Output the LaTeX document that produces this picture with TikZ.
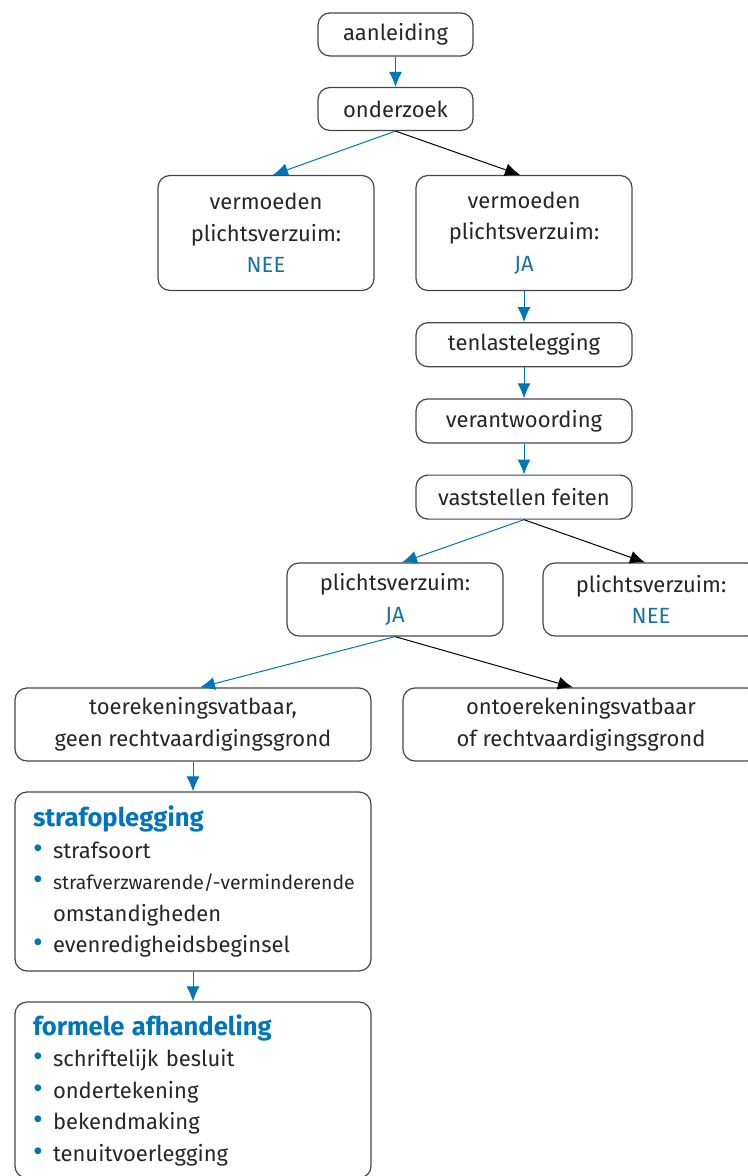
\documentclass[tikz,border=0pt]{standalone}
\usepackage{fontspec}
\setmainfont{Fira Sans}
\definecolor{blauw}{RGB}{0,118,186}
\definecolor{blauwt}{RGB}{25,115,160}
\definecolor{rand}{RGB}{70,70,70}
\usetikzlibrary{arrows.meta,positioning}
\tikzset{
  kader/.style={draw=rand,line width=0.6pt,rounded corners=6pt,align=center,
        text=black!85,font=\fontsize{11}{15.75}\selectfont,inner sep=2pt},
  lijst/.style={kader,align=left,text width=160pt,inner xsep=9pt,
        minimum width=178pt},
  pijlb/.style={-{Latex[length=7.5pt,width=6.5pt]},blauw,line width=0.5pt},
  pijlz/.style={-{Latex[length=7.5pt,width=6.5pt]},black,line width=0.5pt}
}
\newcommand{\uitslag}[1]{\textcolor{blauwt}{#1}}
\newcommand{\punt}{\makebox[10pt][l]{\textcolor{blauw}{\fontsize{15}{15.75}\selectfont\textbullet}}}
\newcommand{\kop}[1]{{\fontsize{12.8}{15.75}\selectfont\bfseries\textcolor{blauw}{#1}}}

\begin{document}
\begin{tikzpicture}[x=0.5pt,y=-0.5pt]
      \useasboundingbox (0,0) rectangle (748,1176);

      % begin van de procedure
      \node[kader,minimum width=77.5pt,minimum height=21.5pt] (aanl) at (395.5,34.5) {aanleiding};
      \node[kader,minimum width=77.5pt,minimum height=21.5pt] (onderz) at (395.5,109) {onderzoek};

      \node[kader,minimum width=108pt,minimum height=57.5pt] (vermnee) at (266,233)
        {vermoeden\\plichtsverzuim:\\\uitslag{NEE}};
      \node[kader,minimum width=108pt,minimum height=57.5pt] (vermja) at (524,233)
        {vermoeden\\plichtsverzuim:\\\uitslag{JA}};

      \node[kader,minimum width=108pt,minimum height=22pt,
            below=15.5pt of vermja] (tenl) {tenlastelegging};
      \node[kader,minimum width=108pt,minimum height=22pt,
            below=15.5pt of tenl] (verantw) {verantwoording};
      \node[kader,minimum width=108pt,minimum height=22pt,
            below=15.5pt of verantw] (vastst) {vaststellen feiten};

      % uitkomst
      \node[kader,minimum width=108pt,minimum height=36.5pt] (pvja) at (395,599.5)
        {plichtsverzuim:\\\uitslag{JA}};
      \node[kader,minimum width=108pt,minimum height=36.5pt] (pvnee) at (651,599.5)
        {plichtsverzuim:\\\uitslag{NEE}};

      \node[kader,minimum width=178pt,minimum height=36.5pt] (toer) at (193,724.5)
        {toerekeningsvatbaar,\\geen rechtvaardigingsgrond};
      \node[kader,minimum width=178pt,minimum height=36.5pt] (ontoer) at (581,724.5)
        {ontoerekeningsvatbaar\\of rechtvaardigingsgrond};

      \node[lijst,minimum height=89.5pt] (straf) at (193,881.5)
        {\kop{strafoplegging}\\
         \punt strafsoort\\
         \punt\mbox{\fontsize{9.7}{15.75}\selectfont strafverzwarende/-verminderende}\\
         \hspace*{10pt}omstandigheden\\
         \punt evenredigheidsbeginsel};
      \node[lijst,minimum height=88pt] (formeel) at (193,1090)
        {\kop{formele afhandeling}\\
         \punt schriftelijk besluit\\
         \punt ondertekening\\
         \punt bekendmaking\\
         \punt tenuitvoerlegging};

      \draw[pijlb] (aanl.south)   -- (onderz.north);
      \draw[pijlb] (onderz.south) -- ([xshift=3.5pt]vermnee.north);
      \draw[pijlz] (onderz.south) -- ([xshift=-2pt]vermja.north);
      \draw[pijlb] (vermja.south) -- (tenl.north);
      \draw[pijlb] (tenl.south)   -- (verantw.north);
      \draw[pijlb] (verantw.south) -- (vastst.north);
      \draw[pijlb] (vastst.south) -- ([xshift=3.5pt]pvja.north);
      \draw[pijlz] (vastst.south) -- ([xshift=-3pt]pvnee.north);
      \draw[pijlb] (pvja.south)   -- ([xshift=3.5pt]toer.north);
      \draw[pijlz] (pvja.south)   -- ([xshift=-4pt]ontoer.north);
      \draw[pijlb] (toer.south)   -- (straf.north);
      \draw[pijlb] (straf.south)  -- (formeel.north);
    \end{tikzpicture}
\end{document}
